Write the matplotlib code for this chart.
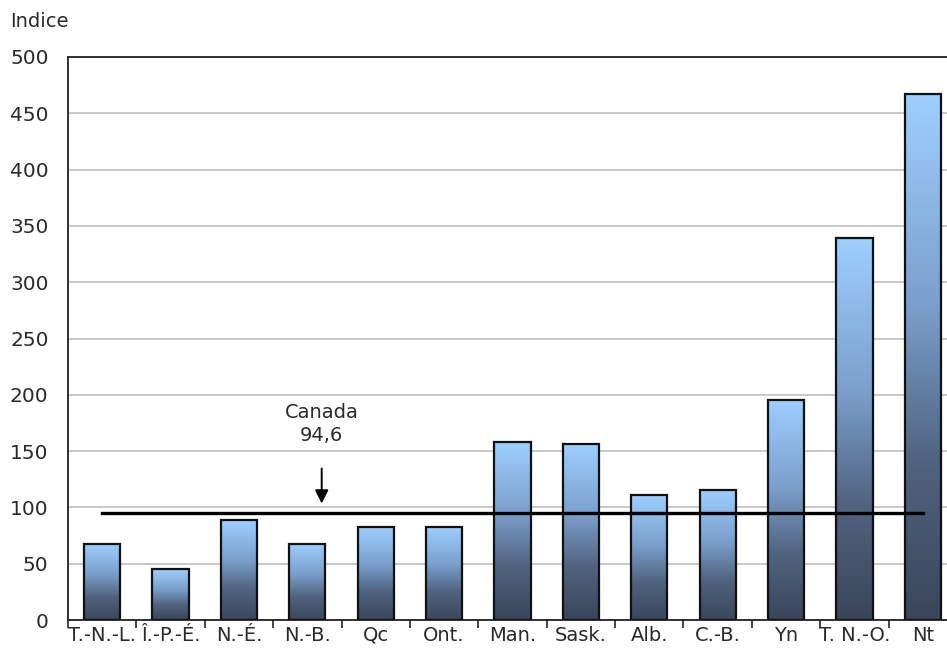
import numpy as np
import matplotlib
matplotlib.use("Agg")
import matplotlib.pyplot as plt
from matplotlib.colors import LinearSegmentedColormap

provinces = ["T.-N.-L.", "Î.-P.-É.", "N.-É.", "N.-B.", "Qc", "Ont.", "Man.",
             "Sask.", "Alb.", "C.-B.", "Yn", "T. N.-O.", "Nt"]
indices = [67.5, 45, 88.5, 67.5, 82.3, 82.3, 158, 156, 111, 115.5, 195.5, 339, 467]
canada = 94.6
yticks = list(range(0, 501, 50))

plt.rcParams["font.family"] = "DejaVu Sans"
text_color = "#2a2a2a"

fig = plt.figure(figsize=(9.47, 6.54), dpi=100)
ax = fig.add_axes([68 / 947, 34 / 654, 889 / 947, 563 / 654])

cmap = LinearSegmentedColormap.from_list(
  "bars", [(0.0, "#3a465a"), (0.3, "#50637f"), (0.6, "#7b9fcc"), (1.0, "#9dcfff")])
grad = np.linspace(0, 1, 256).reshape(-1, 1)

width = 0.53
for i, v in enumerate(indices):
  ax.imshow(grad, cmap=cmap, origin="lower", aspect="auto",
            extent=(i - width / 2, i + width / 2, 0, v), zorder=2)
ax.bar(range(len(provinces)), indices, width=width, facecolor="none",
       edgecolor="#111111", linewidth=1.6, zorder=3)

ax.plot([0, len(provinces) - 1], [canada, canada], color="black", lw=2.4, zorder=5)
ax.annotate("", xy=(3.21, 101), xytext=(3.21, 137),
            arrowprops=dict(arrowstyle="-|>", color="black", lw=1.4, mutation_scale=20),
            zorder=6)
ax.text(3.21, 174, "Canada\n" + f"{canada}".replace(".", ","), ha="center", va="center",
        fontsize=14, color=text_color, linespacing=1.25)

ax.set_xlim(-0.5, len(provinces) - 0.5)
ax.set_ylim(0, 500)
ax.set_yticks(yticks)
ax.set_yticklabels([str(t) for t in yticks], fontsize=14.5, color=text_color)
ax.tick_params(axis="y", length=0, pad=14)

ax.set_xticks(np.arange(-0.5, len(provinces), 1.0))
ax.set_xticklabels([])
ax.tick_params(axis="x", which="major", length=6, width=1.2, color="#222222", direction="out")
ax.set_xticks(range(len(provinces)), minor=True)
ax.set_xticklabels(provinces, minor=True, fontsize=14, color=text_color)
ax.tick_params(axis="x", which="minor", length=0, pad=4)

ax.yaxis.grid(True, color="#c4c4c4", lw=1.3, zorder=0)
ax.set_axisbelow(True)
for side in ["left", "top", "bottom", "right"]:
  ax.spines[side].set_color("#222222")
  ax.spines[side].set_linewidth(1.3)

fig.text(10 / 947, 1 - 27 / 654, "Indice", fontsize=14, color=text_color, va="baseline")

fig.savefig("out.png", dpi=100)
plt.close()
